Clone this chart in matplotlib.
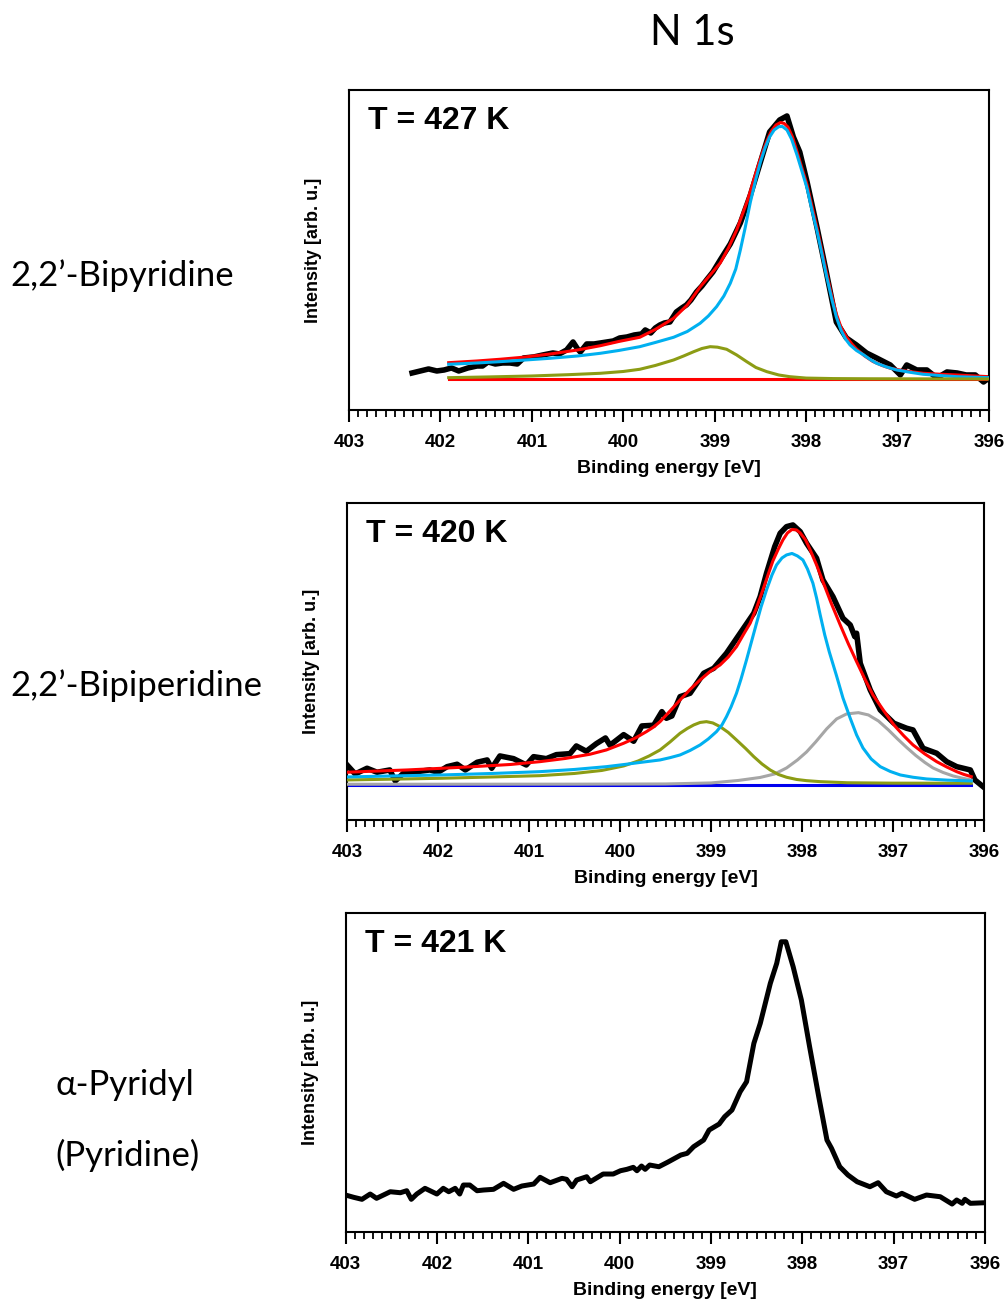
import matplotlib
matplotlib.use("Agg")
import matplotlib.pyplot as plt
from matplotlib.ticker import MultipleLocator

# N 1s XPS spectra, intensities in arbitrary units

# 2,2'-Bipyridine, T = 427 K
bpy_measured = [(402.31, 37), (402.22, 39), (402.13, 41), (402.04, 39), (401.96, 40), (401.88, 42),
                (401.80, 39), (401.70, 42), (401.60, 44), (401.54, 44), (401.48, 48), (401.40, 46),
                (401.32, 47), (401.24, 47), (401.16, 46), (401.09, 52), (400.98, 53), (400.88, 55),
                (400.77, 57), (400.70, 56), (400.62, 60), (400.55, 68), (400.50, 61), (400.47, 58),
                (400.40, 66), (400.32, 66), (400.25, 67), (400.18, 68), (400.11, 69), (400.04, 72),
                (399.96, 73), (399.88, 75), (399.80, 76), (399.76, 80), (399.70, 77), (399.65, 82),
                (399.60, 85), (399.55, 87), (399.49, 88), (399.42, 98), (399.36, 102), (399.31, 105),
                (399.26, 110), (399.20, 118), (399.14, 124), (399.09, 130), (399.02, 138), (398.94, 150),
                (398.83, 166), (398.72, 187), (398.61, 215), (398.50, 248), (398.40, 278), (398.29, 290),
                (398.21, 294), (398.14, 273), (398.07, 258), (397.99, 228), (397.88, 182), (397.78, 138),
                (397.67, 88), (397.56, 72), (397.45, 65), (397.34, 57), (397.23, 52), (397.08, 45),
                (396.97, 35), (396.90, 45), (396.79, 40), (396.68, 40), (396.57, 32), (396.46, 38),
                (396.35, 37), (396.25, 35), (396.15, 35), (396.06, 28), (396.00, 32)]
bpy_envelope = [(401.91, 47.3), (401.6, 49), (401.35, 50.7), (401.1, 52.7), (400.8, 56), (400.5, 60),
                (400.25, 64.3), (400.05, 68.5), (399.82, 72.7), (399.65, 80.5), (399.45, 91.7),
                (399.30, 105), (399.16, 123), (399.05, 135), (398.94, 147), (398.85, 162), (398.76, 180),
                (398.70, 195), (398.64, 210), (398.58, 228), (398.53, 243), (398.48, 257), (398.43, 269),
                (398.38, 279), (398.33, 285), (398.28, 287.5), (398.24, 286.5), (398.20, 283),
                (398.15, 273), (398.10, 258.3), (398.05, 243), (397.99, 225), (397.94, 205),
                (397.88, 181.7), (397.83, 160), (397.78, 138.3), (397.72, 114), (397.67, 96),
                (397.62, 83), (397.56, 73), (397.50, 66), (397.45, 61), (397.36, 54), (397.27, 48.5),
                (397.17, 44.5), (397.08, 41.7), (396.90, 38.8), (396.72, 36.7), (396.50, 35.6),
                (396.35, 35), (396.15, 34), (396.00, 33.3)]
bpy_main = [(401.91, 45.7), (401.6, 47), (401.35, 48.3), (401.1, 49.8), (400.8, 51.7), (400.5, 54),
            (400.25, 56.7), (400.05, 59.5), (399.82, 63.3), (399.65, 67.5), (399.45, 72.7),
            (399.30, 78.5), (399.16, 86.7), (399.07, 94), (398.98, 103.3), (398.90, 114),
            (398.83, 126.7), (398.77, 141), (398.72, 160), (398.67, 181), (398.61, 208),
            (398.55, 231), (398.50, 248), (398.45, 262), (398.40, 273), (398.35, 280), (398.30, 283.3),
            (398.26, 283.5), (398.21, 280), (398.16, 271), (398.10, 255), (398.05, 240),
            (397.99, 221.7), (397.94, 201), (397.88, 178.3), (397.83, 157), (397.78, 135),
            (397.72, 111), (397.67, 93), (397.62, 80), (397.57, 71), (397.52, 65), (397.45, 59.5),
            (397.37, 55), (397.30, 50.5), (397.23, 46.7), (397.12, 43), (397.01, 40), (396.85, 37.5),
            (396.72, 35.7), (396.50, 34.2), (396.35, 33.3), (396.15, 32.7), (396.00, 32.3)]
bpy_minor = [(401.91, 32.3), (401.5, 33), (401.0, 34), (400.6, 35.3), (400.25, 36.7), (400.0, 38.5),
             (399.82, 40.7), (399.65, 44.5), (399.45, 50), (399.34, 54), (399.23, 58.3),
             (399.14, 61.5), (399.05, 63.3), (398.97, 62.8), (398.87, 60.7), (398.76, 55),
             (398.65, 48.3), (398.55, 42.5), (398.43, 38.3), (398.30, 35), (398.18, 33.3),
             (398.0, 31.9), (397.7, 31.4), (397.3, 31.2), (396.0, 31)]
bpy_background = [(401.91, 30.5), (396.00, 30.5)]

# 2,2'-Bipiperidine, T = 420 K
bpip_measured = [(403.00, 55), (402.91, 46), (402.78, 51.7), (402.67, 47.7), (402.53, 50), (402.47, 39),
                 (402.38, 46.7), (402.23, 48.3), (402.09, 50), (402.00, 47.7), (401.90, 53.3),
                 (401.79, 55.7), (401.70, 50), (401.57, 57.7), (401.46, 60), (401.41, 51.7),
                 (401.32, 64), (401.17, 61.3), (401.03, 55), (400.95, 63.3), (400.81, 61.3),
                 (400.70, 65.3), (400.55, 66.3), (400.48, 74), (400.37, 68.7), (400.26, 76.3),
                 (400.16, 82), (400.11, 74.7), (399.96, 85.3), (399.85, 78.7), (399.76, 94),
                 (399.63, 94.7), (399.54, 108.3), (399.49, 101.7), (399.43, 104), (399.34, 123.3),
                 (399.23, 126.7), (399.08, 146.7), (398.97, 151.7), (398.83, 166.7), (398.68, 186.7),
                 (398.53, 206.7), (398.46, 223.3), (398.39, 246.7), (398.30, 273.3), (398.24, 286.7),
                 (398.17, 293.3), (398.10, 295), (398.02, 288.3), (397.95, 276.7), (397.84, 261.7),
                 (397.77, 240), (397.66, 223.3), (397.55, 201.7), (397.47, 195), (397.42, 183.3),
                 (397.40, 186.7), (397.36, 156.7), (397.25, 130), (397.14, 110), (396.99, 96.7),
                 (396.85, 91.7), (396.78, 90), (396.67, 71.7), (396.52, 66.7), (396.41, 58.3),
                 (396.30, 53.3), (396.15, 50), (396.10, 40), (396.01, 33.3)]
bpip_envelope = [(403.0, 47.7), (402.7, 48.8), (402.34, 50), (402.0, 51.5), (401.61, 53.3), (401.2, 55.5),
                 (400.88, 58.3), (400.6, 61.5), (400.33, 65.7), (400.15, 70), (399.96, 76.7),
                 (399.83, 82), (399.71, 88.3), (399.63, 93), (399.56, 98.3), (399.45, 109),
                 (399.34, 120), (399.23, 130.5), (399.12, 140), (399.01, 148.5), (398.90, 155),
                 (398.81, 163), (398.72, 173.3), (398.64, 186), (398.57, 196.7), (398.50, 212),
                 (398.43, 230), (398.37, 246), (398.32, 259), (398.26, 271), (398.21, 280),
                 (398.16, 287), (398.11, 290.5), (398.06, 290), (398.02, 287), (397.96, 280),
                 (397.91, 270), (397.84, 255), (397.77, 238.3), (397.68, 217), (397.58, 195),
                 (397.49, 176), (397.40, 158.3), (397.31, 141), (397.22, 125), (397.10, 109),
                 (396.99, 95), (396.88, 84), (396.78, 75), (396.65, 66), (396.52, 58.3), (396.41, 53),
                 (396.30, 48.3), (396.22, 45.5), (396.14, 43.3)]
bpip_main = [(403.0, 43), (402.5, 44), (401.96, 45), (401.4, 46.5), (400.88, 48.3), (400.5, 50.5),
             (400.15, 53.3), (399.95, 55.5), (399.78, 57.5), (399.56, 60), (399.45, 62.3),
             (399.34, 65), (399.23, 69.5), (399.12, 75), (399.03, 81), (398.94, 88.3), (398.88, 95),
             (398.83, 103.3), (398.78, 113), (398.72, 126.7), (398.67, 141), (398.61, 160),
             (398.55, 180), (398.50, 196.7), (398.45, 213), (398.39, 230), (398.33, 245),
             (398.28, 255), (398.22, 262), (398.17, 265), (398.11, 266.5), (398.05, 264),
             (397.99, 260), (397.94, 251), (397.88, 236.7), (397.84, 222), (397.80, 205),
             (397.75, 185), (397.70, 168), (397.62, 144), (397.55, 122), (397.47, 101.7),
             (397.40, 85), (397.33, 72), (397.24, 61), (397.14, 53.3), (397.03, 48.5), (396.92, 45),
             (396.78, 42.7), (396.63, 41), (396.40, 39.8), (396.14, 39)]
bpip_high = [(403.0, 40), (402.5, 40.8), (401.96, 41.7), (401.4, 43), (400.88, 44.3), (400.5, 46.5),
             (400.2, 49.5), (399.96, 54), (399.80, 59), (399.68, 64), (399.56, 70), (399.45, 78),
             (399.34, 86.7), (399.26, 91.5), (399.19, 95), (399.12, 97.5), (399.05, 98.3),
             (398.98, 97), (398.90, 93.3), (398.81, 87.5), (398.72, 80), (398.62, 71.5),
             (398.53, 63.3), (398.44, 56), (398.35, 50), (398.26, 45.5), (398.17, 42.7),
             (398.06, 40.5), (397.95, 39.3), (397.80, 38.3), (397.5, 37.2), (397.0, 36.8),
             (396.14, 36.7)]
bpip_low = [(403.0, 35.7), (400.5, 35.8), (399.5, 36), (399.0, 37), (398.70, 39.5), (398.46, 42.5),
            (398.30, 46), (398.17, 52), (398.05, 60), (397.95, 68), (397.85, 78), (397.73, 91),
            (397.62, 101), (397.51, 106), (397.38, 107.3), (397.27, 105), (397.16, 99), (397.05, 90),
            (396.95, 81), (396.85, 72.5), (396.75, 64.5), (396.65, 57.5), (396.56, 52), (396.45, 47.5),
            (396.34, 44), (396.24, 41.8), (396.14, 40)]
bpip_background = [(403.0, 35), (396.14, 35)]

# alpha-Pyridyl (Pyridine), T = 421 K
pyr_measured = [(403.00, 37), (402.91, 34.7), (402.82, 32.7), (402.73, 38), (402.66, 33.7), (402.51, 40.3),
                (402.40, 39.3), (402.33, 41.3), (402.28, 32.7), (402.22, 38), (402.13, 43.7), (402.00, 38),
                (401.93, 43.7), (401.87, 40.3), (401.80, 43.7), (401.75, 38), (401.71, 47), (401.64, 47),
                (401.56, 41.3), (401.49, 42), (401.38, 42.7), (401.27, 48.7), (401.16, 42.7), (401.07, 46),
                (400.94, 48), (400.87, 54.7), (400.76, 49.3), (400.63, 53.7), (400.58, 52.7),
                (400.52, 45.3), (400.47, 52), (400.36, 55.3), (400.32, 50.3), (400.18, 58), (400.07, 58),
                (399.99, 61.3), (399.92, 62.7), (399.85, 64.7), (399.81, 61.3), (399.76, 66),
                (399.72, 62.7), (399.67, 67), (399.57, 65.3), (399.47, 70), (399.33, 77), (399.26, 78.7),
                (399.19, 85.3), (399.08, 92), (399.02, 102), (398.91, 108), (398.85, 115.3), (398.77, 122),
                (398.68, 140.3), (398.61, 150.3), (398.53, 188.7), (398.46, 208.7), (398.35, 248.7),
                (398.28, 268.7), (398.23, 290.3), (398.18, 290.3), (398.10, 265.3), (398.01, 232),
                (397.92, 185.3), (397.82, 135.3), (397.73, 92), (397.68, 83.7), (397.59, 65.3),
                (397.50, 57), (397.40, 50.3), (397.26, 45.3), (397.17, 49.3), (397.08, 40.3), (396.97, 36),
                (396.91, 38.7), (396.77, 32.7), (396.64, 37), (396.49, 35.3), (396.36, 28), (396.31, 32),
                (396.25, 28.7), (396.22, 32.7), (396.16, 28.7), (396.00, 29.3)]

RED = "#ff0000"
LIGHT_BLUE = "#00b0f0"
OLIVE = "#8c9c14"
GRAY = "#a6a6a6"
BLUE = "#0000ee"

ARIAL = "Liberation Sans"
CALIBRI = "Lato"


def xy(pairs):
    e, i = zip(*pairs)
    return list(e), list(i)


def style_axis(ax, top, label):
    ax.set_xlim(403, 396)
    ax.set_ylim(0, top)
    ax.set_yticks([])
    ax.xaxis.set_major_locator(MultipleLocator(1))
    ax.xaxis.set_minor_locator(MultipleLocator(0.1))
    ax.tick_params(axis="x", which="major", direction="out", length=8.5, width=1.5, pad=9,
                   labelsize=13.5)
    ax.tick_params(axis="x", which="minor", direction="out", length=5, width=1.3)
    for lab in ax.get_xticklabels():
        lab.set_fontfamily(ARIAL)
        lab.set_fontweight("bold")
    for sp in ax.spines.values():
        sp.set_linewidth(1.5)
    ax.set_xlabel("Binding energy [eV]", fontsize=14, fontweight="bold", family=ARIAL, labelpad=6)
    ax.set_ylabel("Intensity [arb. u.]", fontsize=13, fontweight="bold", family=ARIAL)
    ax.yaxis.set_label_coords(-0.042, 0.5)
    ax.text(0.03, 0.903, label, transform=ax.transAxes, fontsize=23, fontweight="bold",
            family=ARIAL, ha="left", va="center")


fig = plt.figure(figsize=(10.05, 13.04), dpi=100)

# panel 1
ax1 = fig.add_axes([0.3473, 0.6856, 0.6368, 0.2454])
ax1.plot(*xy(bpy_measured), color="black", lw=4, zorder=1)
ax1.plot(*xy(bpy_envelope), color=RED, lw=2.2, zorder=2)
ax1.plot(*xy(bpy_background), color=RED, lw=2.2, zorder=2)
ax1.plot(*xy(bpy_main), color=LIGHT_BLUE, lw=2.2, zorder=3)
ax1.plot(*xy(bpy_minor), color=OLIVE, lw=2.2, zorder=4)
style_axis(ax1, 320, "T = 427 K")

# panel 2
ax2 = fig.add_axes([0.3453, 0.3712, 0.6338, 0.2431])
ax2.plot(*xy(bpip_measured), color="black", lw=4, zorder=1)
ax2.plot(*xy(bpip_background), color=BLUE, lw=2.2, zorder=2)
ax2.plot(*xy(bpip_low), color=GRAY, lw=2.2, zorder=3)
ax2.plot(*xy(bpip_high), color=OLIVE, lw=2.2, zorder=4)
ax2.plot(*xy(bpip_main), color=LIGHT_BLUE, lw=2.2, zorder=5)
ax2.plot(*xy(bpip_envelope), color=RED, lw=2.2, zorder=6)
style_axis(ax2, 317, "T = 420 K")

# panel 3
ax3 = fig.add_axes([0.3438, 0.0552, 0.6363, 0.2446])
ax3.plot(*xy(pyr_measured), color="black", lw=3.6, zorder=1)
style_axis(ax3, 319, "T = 421 K")

# titles and molecule names
fig.text(0.689, 0.975, "N 1s", fontsize=30, family=CALIBRI, ha="center", va="center")
fig.text(0.01, 0.789, "2,2\u2019-Bipyridine", fontsize=25, family=CALIBRI, ha="left", va="center")
fig.text(0.01, 0.474, "2,2\u2019-Bipiperidine", fontsize=25, family=CALIBRI, ha="left", va="center")
fig.text(0.055, 0.168, "\u03b1-Pyridyl", fontsize=25, family=CALIBRI, ha="left", va="center")
fig.text(0.055, 0.114, "(Pyridine)", fontsize=25, family=CALIBRI, ha="left", va="center")

fig.savefig("out.png", dpi=100)
